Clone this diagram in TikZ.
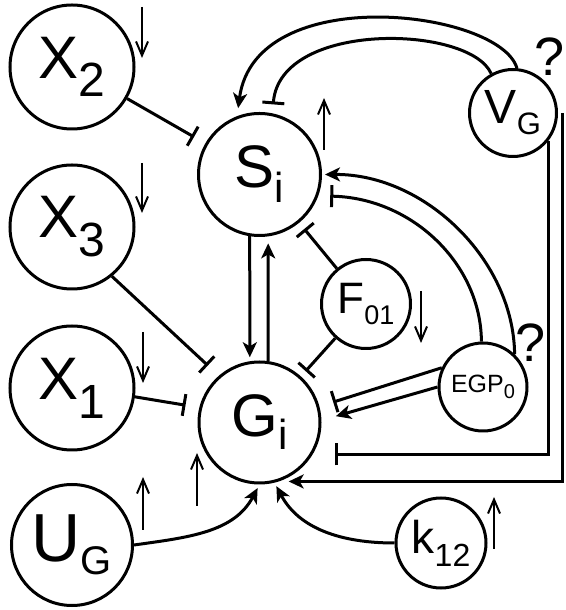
\documentclass[tikz,border=0pt]{standalone}
\usepackage{fontspec}
\setmainfont{Liberation Sans}
\usetikzlibrary{arrows.meta}

% main symbol with a lowered subscript: sizes, drop, symbol, subscript
\newcommand{\glab}[5]{{\fontsize{#1}{#1}\selectfont #4}\raisebox{-#3pt}{\fontsize{#2}{#2}\selectfont #5}}

\begin{document}
\begin{tikzpicture}[x=1pt,y=1pt,
  ball/.style={draw, circle, line width=3pt, inner sep=0pt},
  act/.style={line width=3pt, -{Stealth[length=15pt,width=14pt,inset=4pt]}},
  inh/.style={line width=3pt, -{Bar[width=22pt]}},
  trend/.style={line width=2pt, -{Straight Barb[length=14pt,width=12pt]}},
  qm/.style={font=\fontsize{54}{54}\selectfont, inner sep=0pt}]
\useasboundingbox (0,0) rectangle (565,610);

% species and parameters
\node[ball, minimum size=124pt] (x2) at (72,543) {\glab{60}{48}{18}{X}{2}};
\node[ball, minimum size=124pt] (x3) at (72,383) {\glab{60}{48}{19}{X}{3}};
\node[ball, minimum size=124pt] (x1) at (72,222) {\glab{60}{48}{19}{X}{1}};
\node[ball, minimum size=121pt] (ug) at (72,65) {\glab{68}{40}{13}{U}{G}};
\node[ball, minimum size=122pt] (s) at (259.5,435.5) {\glab{60}{42}{15}{S}{i}};
\node[ball, minimum size=121pt] (g) at (259.5,187.5) {\glab{60}{42}{13}{G}{i}};
\node[ball, minimum size=89pt] (f) at (366,306) {\glab{44}{27}{10}{F}{01}};
\node[ball, minimum size=88pt] (egp) at (483,223) {\glab{25}{20}{6}{EGP}{0}};
\node[ball, minimum size=87pt] (vg) at (513,497) {\glab{48}{31}{11}{V}{G}};
\node[ball, minimum size=90pt] (k) at (441,67) {\glab{46}{32}{13}{k}{12}};

\node[qm] (q1) at (550,553) {?};
\node[qm] (q2) at (530.5,267) {?};

% inhibitions
\draw[inh, shorten >=13pt] (x2) -- (s);
\draw[inh, shorten >=15pt] (x3.-51) -- (g.131);
\draw[inh, shorten >=14pt] (x1.-8) -- (g.166);
\draw[inh, shorten >=8pt] (f) -- (s);
\draw[inh, shorten >=7pt] (f) -- (g);
\draw[inh, shorten >=14.5pt] (egp.155) -- (g.15);
\draw[inh, shorten >=9pt] (vg.119) .. controls (470,585) and (280,590) .. (s.78);
\draw[inh, shorten >=12pt] (egp.92) .. controls (481,346) and (412,412) .. (s.-20);
\draw[inh, shorten >=22pt] (vg.-38) |- (g.-31.4);

% activations
\draw[act, shorten >=4pt] (s.-99) -- (g.99);
\draw[act, shorten >=7pt] (g.82) -- (s.-82);
\draw[act, shorten >=8pt] (vg.85) .. controls (500,600) and (255,630) .. (s.111);
\draw[act, shorten >=3pt] (egp.46) .. controls (513.6,350) and (425,436) .. (s.0);
\draw[act, shorten >=15pt] (egp.180) -- (g.2);
\draw[act, shorten >=10pt] ([xshift=4pt]vg.east) |- (g.-72);
\draw[act, shorten >=4pt] (ug.east) to[out=8, in=-118] (g.-90);
\draw[act, shorten >=4pt] (k.west) to[out=180, in=-62] (g.-76);

% up / down trends
\draw[trend] (142,603) -- (142,552);
\draw[trend] (142,447) -- (142,397);
\draw[trend] (143,278) -- (143,227);
\draw[trend] (143,80) -- (143,133);
\draw[trend] (197,104) -- (197,157);
\draw[trend] (324,460) -- (324,512);
\draw[trend] (421,319) -- (421,267);
\draw[trend] (494,61) -- (494,113);
\end{tikzpicture}
\end{document}
